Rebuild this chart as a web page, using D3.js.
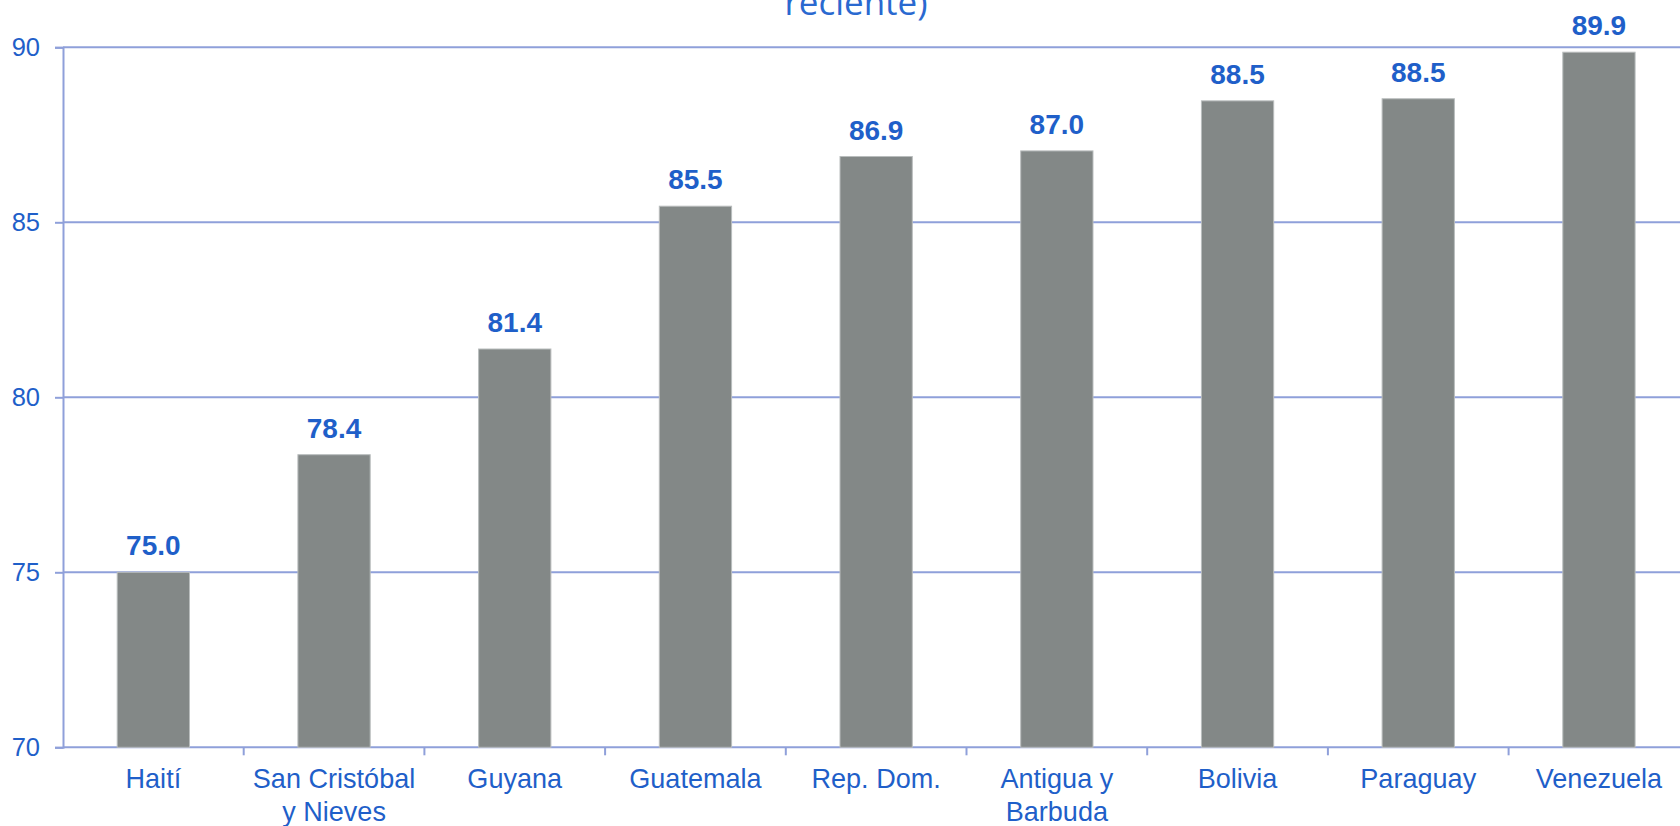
<!DOCTYPE html>
<html>
<head>
<meta charset="utf-8">
<script src="https://cdn.jsdelivr.net/npm/d3@7"></script>
<style>
  html, body { margin: 0; padding: 0; background: #fff; overflow: hidden; }
  svg { display: block; }
</style>
</head>
<body>
<svg id="chart" width="1680" height="826"></svg>
<script>
// ---- Data ----
const categories = [
  ["Haití"],
  ["San Cristóbal", "y Nieves"],
  ["Guyana"],
  ["Guatemala"],
  ["Rep. Dom."],
  ["Antigua y", "Barbuda"],
  ["Bolivia"],
  ["Paraguay"],
  ["Venezuela"]
];
const values = [75.0, 78.36, 81.38, 85.46, 86.88, 87.04, 88.47, 88.53, 89.86];
const yTicks = [70, 75, 80, 85, 90];
const titleTail = "reciente)";

// ---- Layout ----
const W = 1680, H = 826;
const plotLeft = 63, plotTop = 47.3, plotBottom = 747.3;
const step = 180.7;
const plotRight = plotLeft + step * categories.length;

const blue = "#1f5fc9";
const grid = "#8fa0da";
const barColor = "#838887";

const svg = d3.select("#chart");

const x = d3.scaleBand()
  .domain(d3.range(categories.length))
  .range([plotLeft, plotRight])
  .paddingInner(0.6)
  .paddingOuter(0.3);

const y = d3.scaleLinear().domain([70, 90]).range([plotBottom, plotTop]);

// Title remnant (upper lines fall outside the frame)
svg.append("text")
  .attr("x", 856).attr("y", 15)
  .attr("text-anchor", "middle")
  .attr("font-family", "'Open Sans', 'Noto Sans', sans-serif")
  .attr("font-size", 35)
  .attr("fill", "#2a69d0")
  .text(titleTail);

// Y gridlines
svg.append("g").selectAll("line").data(yTicks).join("line")
  .attr("x1", plotLeft).attr("x2", W + 20)
  .attr("y1", d => y(d)).attr("y2", d => y(d))
  .attr("stroke", grid).attr("stroke-width", 2);

// Y axis
const yAxis = d3.axisLeft(y).tickValues(yTicks).tickSize(8).tickPadding(15)
  .tickFormat(d3.format("d"));
const gy = svg.append("g").attr("transform", `translate(${plotLeft},0)`).call(yAxis);
gy.select(".domain").attr("stroke", grid).attr("stroke-width", 2);
gy.selectAll(".tick line").attr("stroke", grid).attr("stroke-width", 2);
gy.selectAll(".tick text")
  .attr("fill", blue)
  .attr("font-family", "'Liberation Sans', Arial, sans-serif")
  .attr("font-size", 25.5);

// Bars
svg.append("g").selectAll("rect").data(values).join("rect")
  .attr("x", (d, i) => x(i))
  .attr("width", x.bandwidth())
  .attr("y", d => y(d))
  .attr("height", d => y(70) - y(d))
  .attr("fill", barColor)
  .attr("stroke", "#b9bdbd")
  .attr("stroke-width", 1);

// X axis ticks at category boundaries
const boundaries = d3.range(1, categories.length + 1).map(i => plotLeft + i * x.step());
svg.append("g").selectAll("line").data(boundaries).join("line")
  .attr("x1", d => d).attr("x2", d => d)
  .attr("y1", plotBottom).attr("y2", plotBottom + 8)
  .attr("stroke", grid).attr("stroke-width", 2);

// X labels (slightly condensed, as in the source)
const xl = svg.append("g").selectAll("text").data(categories).join("text")
  .attr("transform", (d, i) => `translate(${x(i) + x.bandwidth() / 2},788) scale(0.95,1)`)
  .attr("text-anchor", "middle")
  .attr("font-family", "'Liberation Sans', Arial, sans-serif")
  .attr("font-size", 28.5)
  .attr("fill", blue);
xl.selectAll("tspan").data(d => d).join("tspan")
  .attr("x", 0)
  .attr("y", (d, i) => i * 33)
  .text(d => d);

// Value labels
svg.append("g").selectAll("text").data(values).join("text")
  .attr("x", (d, i) => x(i) + x.bandwidth() / 2)
  .attr("y", d => y(d) - 17)
  .attr("text-anchor", "middle")
  .attr("font-family", "'Liberation Sans', Arial, sans-serif")
  .attr("font-weight", "bold")
  .attr("font-size", 28)
  .attr("fill", blue)
  .text(d => d3.format(".1f")(d));
</script>
</body>
</html>
